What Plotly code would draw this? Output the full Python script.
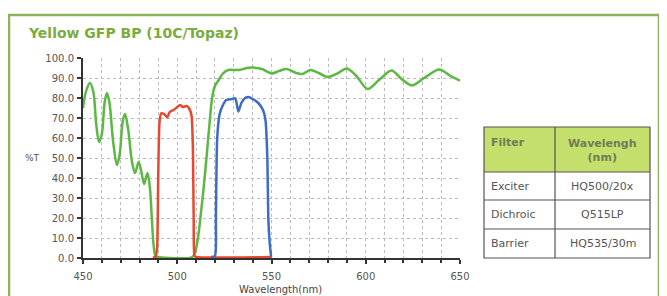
import plotly.graph_objects as go

# ---- data ----
green_wl = [450, 451.5, 453.7, 455.5, 457, 458.5, 460, 461.5, 462.7, 464, 466, 468, 469.5, 471, 472.3,
            474, 476, 477.6, 479.5, 481, 482.4, 484.2, 485.5, 486.5, 487.5, 488.5, 490, 508, 509.5,
            511, 512.5, 514, 515.5, 517, 518.5, 520, 522, 524, 527, 533, 537, 540, 545, 550, 554,
            558, 563, 566.5, 570.5, 575, 580, 585, 590, 595, 601, 607, 613.7, 619, 624.5, 631, 639,
            645, 650]
green_t = [75, 83, 87.5, 83, 67, 58, 62, 78, 82.5, 78, 58, 46.5, 52, 68, 72,
           64, 48, 42.5, 48, 43, 37, 42.5, 35, 20, 6, 1, 0.5, 0.5, 3,
           10, 22, 35, 50, 66, 80, 86, 89, 92, 94, 94, 95, 95.2, 94.5, 92.3, 93.5,
           94.5, 92.5, 92, 94, 92.5, 90.5, 92.3, 94.8, 91, 84.5, 89, 93.8, 89.5, 86.3, 90, 94.3,
           91, 88.7]

red_wl = [487, 488.5, 489.3, 489.9, 490.6, 491.5, 493, 494.7, 496, 498, 500, 501.5, 503, 505, 506.5,
          507.6, 508.3, 508.7, 509.2, 510, 550]
red_t = [0.3, 0.5, 5, 40, 68, 72.3, 72, 70.3, 73, 74, 75.5, 76.5, 75.5, 76, 74.5,
         71, 55, 20, 1, 0.5, 0.5]

blue_wl = [518, 520, 520.5, 521.2, 522.5, 524, 526, 529, 530.8, 532.4, 534, 536, 537.7, 540, 543,
           545.5, 546.8, 547.8, 548.3, 549, 549.8]
blue_t = [0.5, 1, 20, 60, 72, 76, 79, 79.5, 79.8, 73.2, 77.5, 80, 80.5, 79.5, 77.5,
          74, 69, 50, 20, 8, 0.5]

x_ticks = [450, 500, 550, 600, 650]
y_ticks = [0, 10, 20, 30, 40, 50, 60, 70, 80, 90, 100]

table_header = ["Filter", "Wavelengh<br>(nm)"]
table_filters = ["Exciter", "Dichroic", "Barrier"]
table_wavelengths = ["HQ500/20x", "Q515LP", "HQ535/30m"]

# ---- figure (page has an 8px body margin) ----
OFF = 8
W, H = 667 - OFF, 296 - OFF
L, R, T, B = 83 - OFF, 460 - OFF, 58 - OFF, 258 - OFF

def px(xp):
    return (xp - OFF - L) / (R - L)

def py(yp):
    return (B - (yp - OFF)) / (B - T)

fig = go.Figure()
for xs, ys, col, sm in [(green_wl, green_t, "#5db843", 0.9), (red_wl, red_t, "#e9472e", 0.6),
                        (blue_wl, blue_t, "#3c6cc4", 0.6)]:
    fig.add_trace(go.Scatter(x=xs, y=ys, mode="lines", line=dict(color=col, width=2.5, shape="spline", smoothing=sm),
                             hoverinfo="skip", showlegend=False))

shapes = []
annots = []
# outer frame
shapes.append(dict(type="rect", xref="paper", yref="paper", x0=px(9), x1=px(659), y0=py(320), y1=py(15),
                   line=dict(color="#8db35a", width=2.5), fillcolor="rgba(0,0,0,0)", layer="below"))
# title
annots.append(dict(xref="paper", yref="paper", x=px(26), y=py(33), xanchor="left", yanchor="middle",
                   text="<b>Yellow GFP BP (10C/Topaz)</b>", showarrow=False,
                   font=dict(family="DejaVu Sans", size=14, color="#7cab3e")))
# axis labels
annots.append(dict(xref="paper", yref="paper", x=px(32), y=py(158), xanchor="center", yanchor="middle",
                   text="%T", showarrow=False, font=dict(family="DejaVu Sans", size=9, color="#555")))
annots.append(dict(xref="paper", yref="paper", x=px(280), y=py(289), xanchor="center", yanchor="middle",
                   text="Wavelength(nm)", showarrow=False, font=dict(family="DejaVu Sans", size=10, color="#444")))

# table
tx0, tx1, tmid = 484, 650, 555
rows_y = [127, 172, 200, 229, 258]
shapes.append(dict(type="rect", xref="paper", yref="paper", x0=px(tx0), x1=px(tx1), y0=py(rows_y[1]), y1=py(rows_y[0]),
                   fillcolor="#c4df6c", line=dict(width=0)))
shapes.append(dict(type="rect", xref="paper", yref="paper", x0=px(tx0), x1=px(tx1), y0=py(rows_y[-1]), y1=py(rows_y[0]),
                   fillcolor="rgba(0,0,0,0)", line=dict(color="#555", width=1.2)))
for yy in rows_y[1:-1]:
    shapes.append(dict(type="line", xref="paper", yref="paper", x0=px(tx0), x1=px(tx1), y0=py(yy), y1=py(yy),
                       line=dict(color="#555", width=1.2)))
shapes.append(dict(type="line", xref="paper", yref="paper", x0=px(tmid), x1=px(tmid), y0=py(rows_y[-1]), y1=py(rows_y[0]),
                   line=dict(color="#555", width=1.2)))
annots.append(dict(xref="paper", yref="paper", x=px(489), y=py(142), xanchor="left", yanchor="middle",
                   text="<b>" + table_header[0] + "</b>", showarrow=False,
                   font=dict(family="DejaVu Sans", size=11, color="#6e7d55")))
annots.append(dict(xref="paper", yref="paper", x=px((tmid + tx1) / 2), y=py(150), xanchor="center", yanchor="middle",
                   text="<b>" + table_header[1] + "</b>", showarrow=False,
                   font=dict(family="DejaVu Sans", size=11, color="#6e7d55")))
for i, (f, w) in enumerate(zip(table_filters, table_wavelengths)):
    yc = (rows_y[i + 1] + rows_y[i + 2]) / 2
    annots.append(dict(xref="paper", yref="paper", x=px(489), y=py(yc), xanchor="left", yanchor="middle",
                       text=f, showarrow=False, font=dict(family="DejaVu Sans", size=11, color="#555")))
    annots.append(dict(xref="paper", yref="paper", x=px((tmid + tx1) / 2), y=py(yc), xanchor="center", yanchor="middle",
                       text=w, showarrow=False, font=dict(family="DejaVu Sans", size=11, color="#555")))

fig.update_layout(
    width=W, height=H,
    margin=dict(l=L, r=W - R, t=T, b=H - B, pad=0),
    paper_bgcolor="white", plot_bgcolor="white",
    shapes=shapes, annotations=annots,
    xaxis=dict(range=[450, 650], tickvals=x_ticks, ticks="outside", ticklen=4, tickcolor="#333", tickwidth=1.5,
               showline=True, linecolor="#333", linewidth=2, showgrid=True, gridcolor="#bbb", griddash="dot",
               minor=dict(dtick=10, ticks="outside", ticklen=3, tickcolor="#333", showgrid=True,
                          gridcolor="#bbb", griddash="dot"),
               tickfont=dict(family="DejaVu Sans", size=10, color="#555"), ticklabelstandoff=4, zeroline=False),
    yaxis=dict(range=[0, 100], tickvals=y_ticks, tickformat=".1f", ticks="outside", ticklen=4, tickcolor="#333",
               tickwidth=1.5, showline=True, linecolor="#333", linewidth=2, showgrid=True, gridcolor="#bbb",
               griddash="dot", tickfont=dict(family="DejaVu Sans", size=10, color="#555"), zeroline=False,
               ticklabelstandoff=1),
)
fig.write_html("out.html")
